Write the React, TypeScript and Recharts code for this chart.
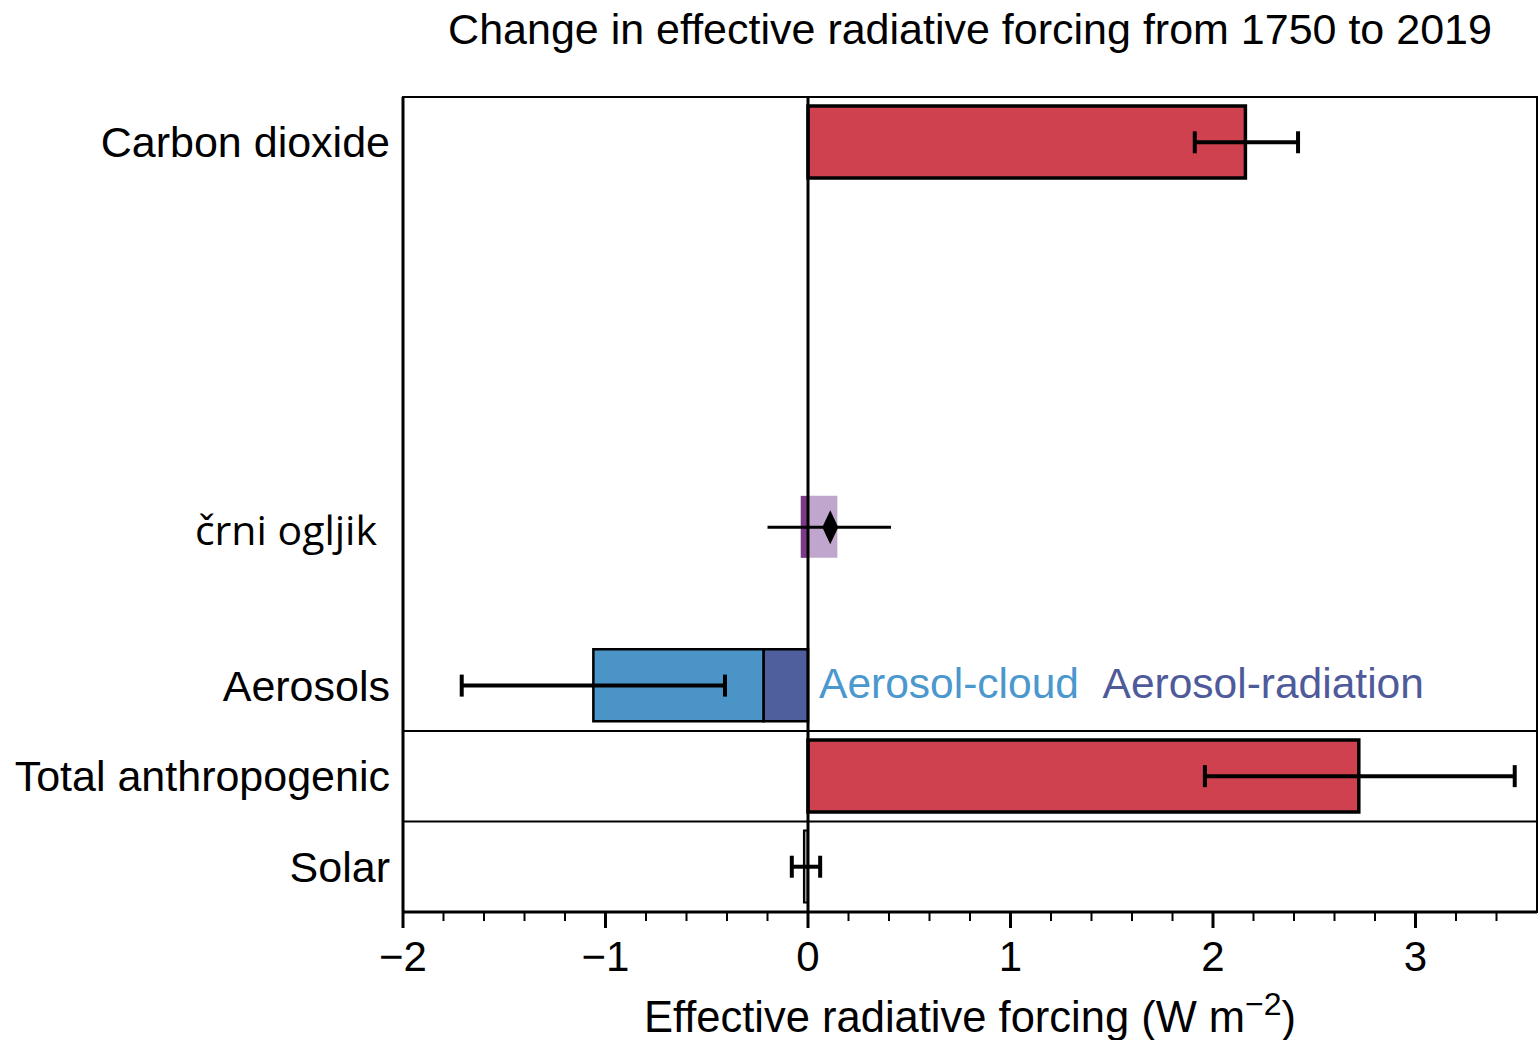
import React from "react";
import {
  ComposedChart,
  Bar,
  Scatter,
  ErrorBar,
  XAxis,
  YAxis,
  ReferenceLine,
  ReferenceArea,
  ReferenceDot,
} from "recharts";

// rows of the figure (row index counts from the top, gaps are removed rows)
const categories = ["Carbon dioxide", "črni ogljik", "Aerosols", "Total anthropogenic", "Solar"];
const rowPositions = [0, 4.25, 6, 7, 8];

// bar segments, W m-2
const redBars = [2.16, null, null, 2.72, null];
const solarBar = [null, null, null, null, -0.02];
const aerosolRadiation = [null, null, -0.22, null, null];
const aerosolCloud = [null, null, -0.84, null, null];
const blackCarbonNeg = [null, -0.036, null, null, null];
const blackCarbonPos = [null, 0.145, null, null, null];

// best estimate and very likely range
const bestEstimate = [2.16, 0.11, -1.06, 2.72, -0.01];
const rangeLow = [1.91, -0.2, -1.71, 1.96, -0.08];
const rangeHigh = [2.42, 0.41, -0.41, 3.49, 0.06];

const xTicks = [
  -2, -1.8, -1.6, -1.4, -1.2, -1, -0.8, -0.6, -0.4, -0.2, 0, 0.2, 0.4, 0.6, 0.8, 1,
  1.2, 1.4, 1.6, 1.8, 2, 2.2, 2.4, 2.6, 2.8, 3, 3.2, 3.4,
];
const separators = [6.5, 7.5];
const legendNames = ["Aerosol-cloud", "Aerosol-radiation"];
const legendColors = ["#4a98cd", "#4e5a9a"];
const legendAnchors = [0.03, 1.43];

const FONT = "'Liberation Sans', Arial, Helvetica, sans-serif";
const DIAMOND_ROW = "črni ogljik";

const table = categories.map((label, i) => ({
  row: rowPositions[i],
  label,
  red: redBars[i],
  solar: solarBar[i],
  ari: aerosolRadiation[i],
  aci: aerosolCloud[i],
  bcNeg: blackCarbonNeg[i],
  bcPos: blackCarbonPos[i],
}));

const points = categories.map((label, i) => ({
  label,
  row: rowPositions[i],
  center: bestEstimate[i],
  err: [bestEstimate[i] - rangeLow[i], rangeHigh[i] - bestEstimate[i]],
}));
const whiskerPoints = points.filter((p) => p.label !== DIAMOND_ROW);
const diamondPoints = points.filter((p) => p.label === DIAMOND_ROW);

const fmt = (v: number) => (v < 0 ? `\u2212${-v}` : `${v}`);

function XTick(props: any) {
  const { x, y, payload } = props;
  const v = payload.value;
  const major = Number.isInteger(v);
  return (
    <g>
      <line x1={x} x2={x} y1={y} y2={y + (major ? 16 : 9)} stroke="#000" strokeWidth={major ? 3 : 2} />
      {major && (
        <text x={x} y={y + 59} textAnchor="middle" fontSize={42} fontFamily={FONT} fill="#000">
          {fmt(v)}
        </text>
      )}
    </g>
  );
}

function YTick(props: any) {
  const { x, y, payload } = props;
  const label = categories[rowPositions.indexOf(payload.value)];
  const replaced = label === DIAMOND_ROW;
  return (
    <text
      x={x - (replaced ? 26 : 13)}
      y={y + (replaced ? 18 : 15)}
      textAnchor="end"
      fontSize={replaced ? 41 : 43}
      fontFamily={replaced ? "'Open Sans', 'Noto Sans', sans-serif" : FONT}
      fill="#000"
    >
      {label}
    </text>
  );
}

function AxisTitle(props: any) {
  const vb = props.viewBox || {};
  return (
    <text x={vb.x + vb.width / 2} y={vb.y + 120} textAnchor="middle" fontSize={43.5} fontFamily={FONT} fill="#000">
      Effective radiative forcing (W m
      <tspan dy={-17} fontSize={32}>
        −2
      </tspan>
      <tspan dy={17}>)</tspan>
    </text>
  );
}

const hiddenPoint = () => <g />;
const diamond = (p: any) => (
  <polygon
    points={`${p.cx},${p.cy - 17} ${p.cx + 8},${p.cy} ${p.cx},${p.cy + 17} ${p.cx - 8},${p.cy}`}
    fill="#000"
  />
);

export default function App() {
  return (
    <div style={{ position: "absolute", left: 0, top: 0, width: 1539, height: 1040, background: "#fff" }}>
      <div
        style={{
          position: "absolute",
          left: 403,
          width: 1134,
          top: 8,
          textAlign: "center",
          fontFamily: FONT,
          fontSize: 43,
          lineHeight: "43px",
          color: "#000",
        }}
      >
        Change in effective radiative forcing from 1750 to 2019
      </div>
      <ComposedChart
        width={1539}
        height={1040}
        data={table}
        layout="vertical"
        stackOffset="sign"
        margin={{ top: 97, right: 2, bottom: 0, left: 0 }}
      >
        <XAxis
          type="number"
          domain={[-2, 3.6]}
          allowDataOverflow
          ticks={xTicks}
          interval={0}
          height={128}
          tickSize={0}
          tickMargin={0}
          tickLine={false}
          axisLine={{ stroke: "#000", strokeWidth: 3 }}
          tick={XTick}
          label={AxisTitle}
        />
        <YAxis
          yAxisId="rows"
          type="number"
          dataKey="row"
          domain={[-0.5, 8.5]}
          allowDataOverflow
          ticks={rowPositions}
          interval={0}
          width={403}
          tickSize={0}
          tickMargin={0}
          tickLine={false}
          axisLine={{ stroke: "#000", strokeWidth: 3 }}
          tick={YTick}
        />
        <YAxis yAxisId="bc" type="number" dataKey="row" domain={[-0.5, 8.5]} allowDataOverflow hide width={0} />
        <YAxis yAxisId="pts" type="number" dataKey="row" domain={[-0.5, 8.5]} allowDataOverflow hide width={0} />

        <ReferenceArea
          yAxisId="rows"
          x1={-2}
          x2={3.6}
          y1={-0.5}
          y2={8.5}
          fill="none"
          stroke="#000"
          strokeWidth={2}
          ifOverflow="visible"
        />
        {separators.map((s) => (
          <ReferenceLine key={s} yAxisId="rows" y={s} stroke="#000" strokeWidth={2} />
        ))}

        <Bar yAxisId="rows" dataKey="red" stackId="s" barSize={72} fill="#cf414f" stroke="#000" strokeWidth={3.5} isAnimationActive={false} />
        <Bar yAxisId="rows" dataKey="ari" stackId="s" barSize={72} fill="#4f5e9c" stroke="#000" strokeWidth={2.5} isAnimationActive={false} />
        <Bar yAxisId="rows" dataKey="aci" stackId="s" barSize={72} fill="#4a94c8" stroke="#000" strokeWidth={2.5} isAnimationActive={false} />
        <Bar yAxisId="rows" dataKey="solar" stackId="s" barSize={74} fill="#9a9a9a" stroke="#000" strokeWidth={2} isAnimationActive={false} />
        <Bar yAxisId="bc" dataKey="bcNeg" stackId="bc" barSize={62} fill="#7b3a87" isAnimationActive={false} />
        <Bar yAxisId="bc" dataKey="bcPos" stackId="bc" barSize={62} fill="#c0a6cd" isAnimationActive={false} />

        <ReferenceLine yAxisId="rows" x={0} stroke="#000" strokeWidth={3} />

        <Scatter yAxisId="pts" data={whiskerPoints} dataKey="center" shape={hiddenPoint} isAnimationActive={false}>
          <ErrorBar dataKey="err" direction="x" width={11} strokeWidth={4} stroke="#000" isAnimationActive={false} />
        </Scatter>
        <Scatter yAxisId="pts" data={diamondPoints} dataKey="center" shape={diamond} isAnimationActive={false}>
          <ErrorBar dataKey="err" direction="x" width={0} strokeWidth={3} stroke="#000" isAnimationActive={false} />
        </Scatter>

        {legendNames.map((name, i) => (
          <ReferenceDot
            key={name}
            yAxisId="rows"
            x={legendAnchors[i]}
            y={6}
            r={0}
            fill="none"
            stroke="none"
            ifOverflow="visible"
            label={(p: any) => {
              const vb = p.viewBox || {};
              return (
                <text x={vb.x + 5} y={vb.y + 12} fontSize={42.5} fontFamily={FONT} fill={legendColors[i]}>
                  {name}
                </text>
              );
            }}
          />
        ))}
      </ComposedChart>
    </div>
  );
}
